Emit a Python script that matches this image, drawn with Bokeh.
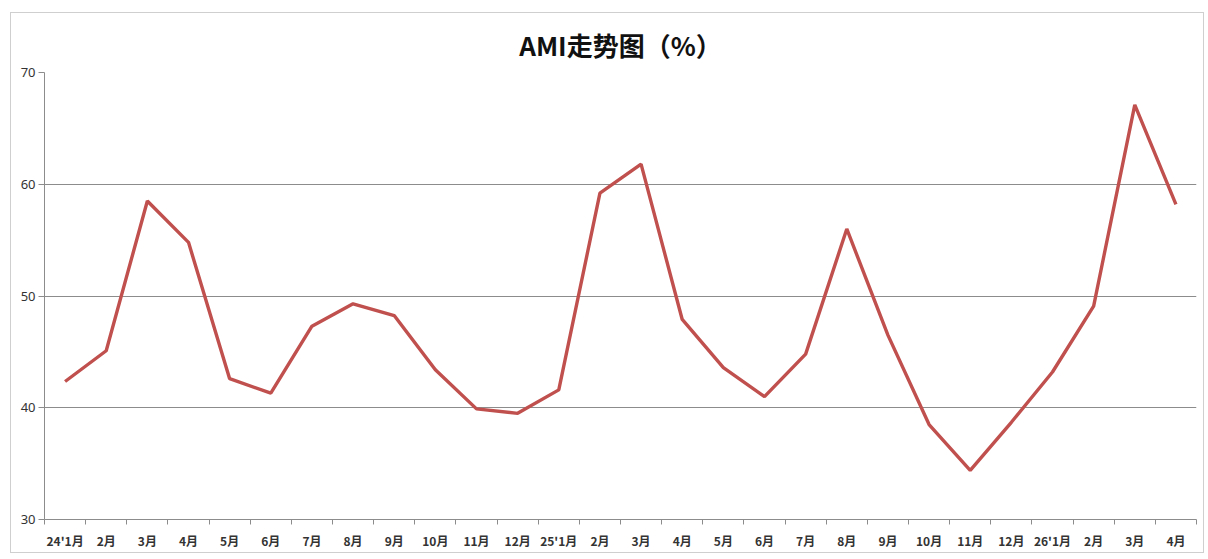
from bokeh.plotting import figure
from bokeh.models import FixedTicker, Range1d
from bokeh.embed import file_html
from bokeh.resources import INLINE

months = ["24'1月", "2月", "3月", "4月", "5月", "6月", "7月", "8月", "9月", "10月", "11月", "12月",
          "25'1月", "2月", "3月", "4月", "5月", "6月", "7月", "8月", "9月", "10月", "11月", "12月",
          "26'1月", "2月", "3月", "4月"]
ami = [42.35, 45.1, 58.5, 54.8, 42.6, 41.3, 47.3, 49.3, 48.25, 43.4, 39.9, 39.5,
       41.6, 59.2, 61.8, 47.9, 43.6, 41.0, 44.8, 56.0, 46.5, 38.5, 34.4, 38.7,
       43.2, 49.1, 67.1, 58.2]
y_ticks = [30, 40, 50, 60, 70]

n = len(months)
xs = [i + 0.5 for i in range(n)]

p = figure(width=1194, height=541, output_backend="svg", toolbar_location=None,
           x_range=Range1d(0, n), y_range=Range1d(30, 70),
           min_border_left=33, min_border_right=9, min_border_top=59, min_border_bottom=35,
           title="AMI走势图（%）")
p.styles = {"border": "1px solid #cfcfcf", "margin-left": "10px", "margin-top": "12px"}
p.title.align = "center"
p.title.text_font = "Noto Sans CJK SC"
p.title.text_font_size = "26px"
p.title.text_font_style = "bold"
p.title.text_color = "#111111"
p.title.offset = 0
p.title.standoff = 19

p.line(xs, ami, line_color="#C0504D", line_width=3.4)

p.outline_line_color = None
p.xgrid.visible = False
p.ygrid.ticker = FixedTicker(ticks=y_ticks)
p.ygrid.grid_line_color = "#8c8c8c"
p.ygrid.grid_line_width = 1

p.yaxis.ticker = FixedTicker(ticks=y_ticks)
p.yaxis.axis_line_color = "#8c8c8c"
p.yaxis.major_tick_line_color = "#8c8c8c"
p.yaxis.major_tick_out = 6
p.yaxis.major_tick_in = 0
p.yaxis.minor_tick_line_color = None
p.yaxis.major_label_text_font = "Noto Sans"
p.yaxis.major_label_text_font_size = "13px"
p.yaxis.major_label_text_color = "#333333"
p.yaxis.major_label_standoff = 3

p.xaxis.ticker = FixedTicker(ticks=xs, minor_ticks=list(range(n + 1)))
p.xaxis.major_label_overrides = {x: m for x, m in zip(xs, months)}
p.xaxis.axis_line_color = "#8c8c8c"
p.xaxis.major_tick_line_color = None
p.xaxis.minor_tick_line_color = "#8c8c8c"
p.xaxis.minor_tick_out = 5
p.xaxis.minor_tick_in = 0
p.xaxis.major_label_text_font = "Noto Sans CJK SC"
p.xaxis.major_label_text_font_size = "12px"
p.xaxis.major_label_text_font_style = "bold"
p.xaxis.major_label_text_color = "#333333"
p.xaxis.major_label_standoff = 6

open("out.html", "w").write(file_html(p, INLINE))
